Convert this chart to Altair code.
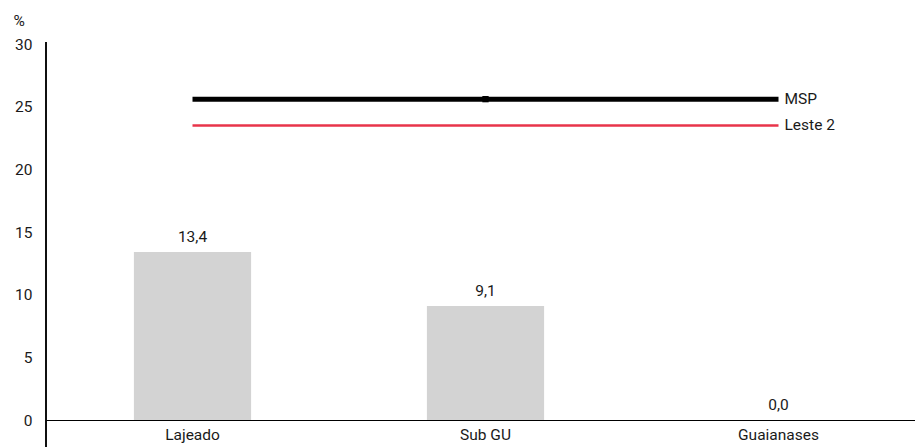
import altair as alt
import pandas as pd

# Bar values per area (%)
categories = ["Lajeado", "Sub GU", "Guaianases"]
values = [13.4, 9.1, 0.0]

# Reference levels drawn as horizontal lines across the areas
ref_names = ["MSP", "Leste 2"]
ref_values = [25.6, 23.5]
ref_colors = ["#000000", "#E8344A"]
ref_widths = [5, 2.5]

FONT = "Roboto"
FS = 15.5
TEXT = "#1a1a1a"
W, H = 869, 376

bars_df = pd.DataFrame({
    "area": categories,
    "value": values,
    "label": [f"{v:.1f}".replace(".", ",") for v in values],
})

ref_rows = []
for name, v in zip(ref_names, ref_values):
    for c in categories:
        ref_rows.append({"area": c, "serie": name, "value": v})
ref_df = pd.DataFrame(ref_rows)
ref_end = pd.DataFrame({"area": [categories[-1]] * len(ref_names),
                        "serie": ref_names, "value": ref_values})

x = alt.X("area:N", sort=categories,
          scale=alt.Scale(range=[0, 879], paddingInner=0.6, paddingOuter=0.3),
          axis=alt.Axis(title=None, labelAngle=0, domainColor="#000000",
                        domainWidth=1.2, ticks=False, labelFont=FONT,
                        labelFontSize=FS, labelColor=TEXT, labelPadding=7))
y = alt.Y("value:Q",
          scale=alt.Scale(domain=[0, 30], nice=False),
          axis=alt.Axis(title="%", titleAngle=0, titleAlign="left",
                        titleBaseline="alphabetic", titleX=-33, titleY=-19,
                        titleFont=FONT, titleFontSize=FS, titleFontWeight="normal",
                        titleColor=TEXT, values=[0, 5, 10, 15, 20, 25, 30],
                        grid=False, domain=False, ticks=False, labelFont=FONT,
                        labelFontSize=FS, labelColor=TEXT, labelPadding=14))

bars = alt.Chart(bars_df).mark_bar(color="#D3D3D3").encode(x=x, y=y)
bar_labels = alt.Chart(bars_df).mark_text(
    baseline="bottom", dy=-7, font=FONT, fontSize=FS, color=TEXT
).encode(x=x, y="value:Q", text="label:N")

color_scale = alt.Scale(domain=ref_names, range=ref_colors)
lines = alt.Chart(ref_df).mark_line().encode(
    x=x, y="value:Q",
    color=alt.Color("serie:N", scale=color_scale, legend=None),
    strokeWidth=alt.StrokeWidth("serie:N", scale=alt.Scale(domain=ref_names, range=ref_widths), legend=None),
)
msp_marker = alt.Chart(ref_df[(ref_df.serie == "MSP") & (ref_df.area == "Sub GU")]).mark_point(
    shape="square", filled=True, size=40, color="#000000", opacity=1
).encode(x=x, y="value:Q")
line_labels = alt.Chart(ref_end).mark_text(
    align="left", dx=6, font=FONT, fontSize=FS, color=TEXT
).encode(x=x, y="value:Q", text="serie:N")

# Vertical axis line, running a little past the zero line
y_axis_line = alt.Chart(bars_df).mark_rule(color="#000000", strokeWidth=1.2).encode(
    x=alt.value(0), y=alt.value(-2), y2=alt.value(H + 30)
)

chart = alt.layer(bars, bar_labels, lines, msp_marker, line_labels, y_axis_line).properties(
    width=W, height=H,
    autosize=alt.AutoSizeParams(type="none"),
    padding={"left": 46, "top": 44, "right": 0, "bottom": 27},
    background="#ffffff",
).configure_view(stroke=None, strokeWidth=0)

chart.save("out.html", embed_options={"renderer": "svg", "actions": False})
